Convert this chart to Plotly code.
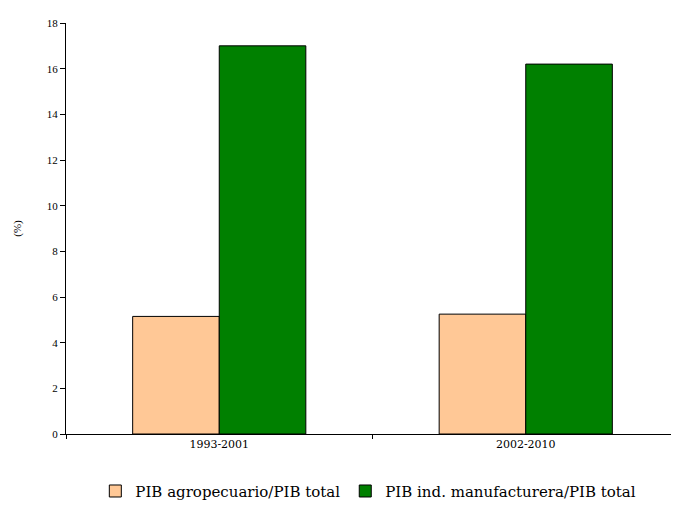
import plotly.graph_objects as go

categories = ["1993-2001", "2002-2010"]
agro = [5.15, 5.25]
manuf = [17.0, 16.2]
series_names = ["PIB agropecuario/PIB total", "PIB ind. manufacturera/PIB total"]
y_ticks = [0, 2, 4, 6, 8, 10, 12, 14, 16, 18]

fig = go.Figure()
fig.add_trace(go.Bar(x=categories, y=agro, name=series_names[0],
                     marker=dict(color="#FFC896", line=dict(color="black", width=1))))
fig.add_trace(go.Bar(x=categories, y=manuf, name=series_names[1],
                     marker=dict(color="#008000", line=dict(color="black", width=1))))

fig.update_layout(
    width=671, height=513,
    margin=dict(l=58, r=0, t=15, b=87),
    paper_bgcolor="white", plot_bgcolor="white",
    barmode="group", bargap=0.435, bargroupgap=0,
    font=dict(family="Liberation Serif", size=11, color="black"),
    showlegend=True,
    legend=dict(orientation="h", xref="container", yref="container",
                x=0.537, xanchor="center", y=0.058, yanchor="middle",
                font=dict(family="DejaVu Serif", size=15), itemwidth=30,
                traceorder="normal"),
    xaxis=dict(showline=True, linecolor="black", linewidth=1,
               ticks="outside", tickson="boundaries", ticklen=4, tickcolor="black",
               tickfont=dict(family="DejaVu Serif", size=11), showgrid=False),
    yaxis=dict(range=[0, 18], tickvals=y_ticks, showline=True, linecolor="black",
               linewidth=1, ticks="outside", ticklen=5, tickcolor="black",
               showgrid=False, zeroline=False, tickfont=dict(size=11),
               title=dict(text="(%)", font=dict(size=11), standoff=22)),
)

fig.write_html("out.html")
